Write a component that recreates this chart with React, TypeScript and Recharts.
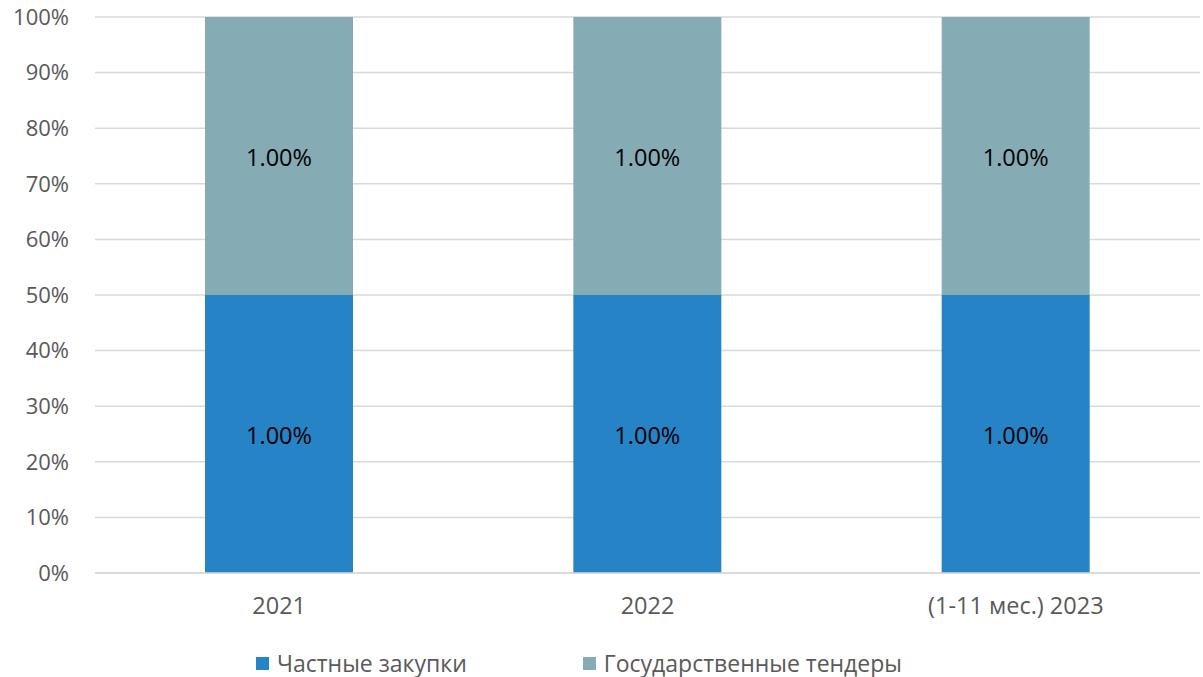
import { BarChart, Bar, XAxis, YAxis, CartesianGrid, Legend, LabelList } from 'recharts'

const categories = ['2021', '2022', '(1-11 мес.) 2023']
const privateValues = [1.0, 1.0, 1.0]
const tenderValues = [1.0, 1.0, 1.0]
const yTicks = [0, 0.1, 0.2, 0.3, 0.4, 0.5, 0.6, 0.7, 0.8, 0.9, 1]

const seriesNames = ['Частные закупки', 'Государственные тендеры']
const colors = ['#2683C6', '#85ABB5']

const data = categories.map((name, i) => ({
  name,
  priv: privateValues[i],
  tender: tenderValues[i],
}))

const font = '"Open Sans", sans-serif'

function ChartLegend() {
  return (
    <div
      style={{
        height: 40,
        paddingTop: 12,
        paddingRight: 42,
        boxSizing: 'border-box',
        display: 'flex',
        justifyContent: 'center',
        fontFamily: font,
        fontSize: 23,
        color: '#595959',
      }}
    >
      {seriesNames.map((n, i) => (
        <div
          key={n}
          style={{ display: 'flex', alignItems: 'center', marginRight: i === 0 ? 116 : 0, lineHeight: '26px' }}
        >
          <span style={{ width: 13, height: 13, background: colors[i], marginRight: 8, display: 'inline-block' }} />
          {n}
        </div>
      ))}
    </div>
  )
}

const fmt = (v: any) => `${Number(v).toFixed(2)}%`

export default function App() {
  return (
    <div style={{ position: 'absolute', left: 0, top: 0, background: '#fff' }}>
      <BarChart
        width={1203}
        height={677}
        data={data}
        stackOffset="expand"
        margin={{ top: 17, right: 3, left: 0, bottom: 0 }}
      >
        <CartesianGrid vertical={false} stroke="#D9D9D9" strokeWidth={1.5} />
        <XAxis
          dataKey="name"
          height={64}
          tickLine={false}
          tickSize={0}
          tickMargin={24}
          axisLine={{ stroke: '#D9D9D9', strokeWidth: 1.5 }}
          tick={{ fontSize: 23.5, fill: '#595959', fontFamily: font }}
        />
        <YAxis
          width={95}
          domain={[0, 1]}
          ticks={yTicks}
          interval={0}
          tickFormatter={(v: number) => `${Math.round(v * 100)}%`}
          tickLine={false}
          axisLine={false}
          tickSize={0}
          tickMargin={26}
          tick={{ fontSize: 22, fill: '#595959', fontFamily: font }}
        />
        <Legend verticalAlign="bottom" content={<ChartLegend />} />
        <Bar dataKey="priv" name={seriesNames[0]} stackId="a" fill={colors[0]} barSize={148} isAnimationActive={false}>
          <LabelList dataKey="priv" position="center" formatter={fmt} fill="#000" fontSize={23.5} fontFamily={font} dy={2} />
        </Bar>
        <Bar dataKey="tender" name={seriesNames[1]} stackId="a" fill={colors[1]} barSize={148} isAnimationActive={false}>
          <LabelList dataKey="tender" position="center" formatter={fmt} fill="#000" fontSize={23.5} fontFamily={font} dy={2} />
        </Bar>
      </BarChart>
    </div>
  )
}
